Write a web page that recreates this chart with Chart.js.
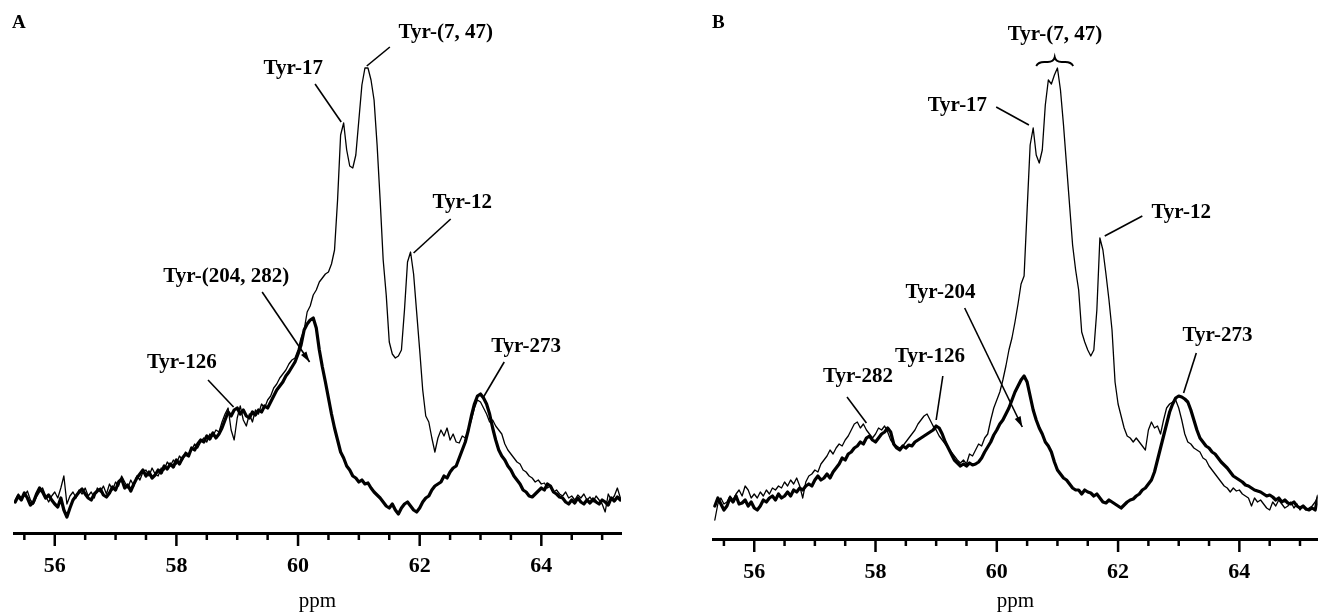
<!DOCTYPE html>
<html>
<head>
<meta charset="utf-8">
<script src="https://cdn.jsdelivr.net/npm/chart.js@4.4.1/dist/chart.umd.min.js"></script>
<style>
  body { margin: 0; background: #fff; }
  #wrap { position: relative; width: 1320px; height: 612px; overflow: hidden; }
  #wrap canvas { position: absolute; top: 0; }
  .panel { position: absolute; top: 11px; font: bold 19px "Liberation Serif", serif; color: #000; }
</style>
</head>
<body>
<div id="wrap">
  <canvas id="chartA" width="660" height="612" style="left:0"></canvas>
  <canvas id="chartB" width="660" height="612" style="left:660px"></canvas>
  <div class="panel" style="left:12px">A</div>
  <div class="panel" style="left:712px">B</div>
</div>
<script>
// sampling grid of the spectra, ppm (0.05 ppm steps)
const ppm = Array.from({length: 200}, (_, i) => +(55.35 + i * 0.05).toFixed(2));

// axis ticks
const tickValues = [55.5, 56, 56.5, 57, 57.5, 58, 58.5, 59, 59.5, 60, 60.5, 61, 61.5, 62, 62.5, 63, 63.5, 64, 64.5, 65];
const majorTicks = [56, 58, 60, 62, 64];

// panel A, intensities (one row = 1 ppm)
const aThick = [
  -2, 4, 0, 7, 2, -5, -2, 6, 12, 8, 2, 5, 0, -4, -7, 2, -10, -17, -8, 0,
  4, 8, 11, 6, 2, 0, 6, 9, 11, 5, 3, 7, 13, 10, 18, 21, 12, 15, 9, 16,
  22, 26, 30, 24, 28, 22, 25, 30, 27, 34, 31, 36, 33, 40, 36, 42, 46, 44, 52, 50,
  56, 60, 58, 64, 61, 67, 62, 66, 72, 80, 88, 84, 90, 92, 86, 90, 84, 82, 88, 85,
  90, 88, 94, 92, 98, 104, 110, 114, 118, 124, 128, 133, 138, 146, 155, 170, 176, 180, 182, 172,
  150, 133, 118, 102, 86, 72, 60, 48, 42, 34, 30, 24, 22, 18, 20, 16, 17, 12, 8, 5,
  2, -2, -6, -8, -4, -10, -14, -8, -4, -2, -6, -10, -12, -8, -2, 2, 4, 10, 14, 16,
  18, 24, 22, 28, 32, 34, 42, 50, 58, 70, 84, 96, 104, 106, 102, 96, 86, 72, 60, 50,
  44, 40, 34, 30, 24, 20, 16, 10, 8, 4, 3, 6, 9, 12, 10, 16, 14, 8, 6, 3,
  2, -2, -4, 0, -3, 2, -2, -4, 0, -3, 1, -2, -4, 0, -2, -5, 2, -1, 3, 0
];
const aThin = [
  0, 6, 2, 4, 9, 0, -4, 3, 8, 12, 4, -2, 4, 8, 2, 12, 24, -4, 4, 8,
  2, 10, 6, 12, 4, 8, 2, 12, 8, 14, 6, 16, 10, 18, 14, 24, 18, 12, 20, 14,
  24, 20, 28, 30, 24, 32, 26, 24, 32, 30, 38, 34, 40, 36, 44, 40, 48, 46, 50, 56,
  52, 58, 62, 58, 66, 64, 70, 68, 78, 86, 92, 70, 60, 82, 94, 80, 74, 86, 78, 90,
  86, 96, 92, 100, 104, 112, 116, 122, 126, 130, 136, 140, 142, 150, 162, 170, 188, 194, 205, 210,
  218, 222, 226, 228, 236, 250, 300, 365, 377, 350, 334, 332, 345, 380, 415, 432, 432, 420, 400, 355,
  300, 240, 205, 158, 146, 142, 144, 150, 190, 238, 248, 226, 188, 150, 110, 84, 78, 62, 48, 62,
  70, 64, 72, 60, 66, 58, 57, 64, 62, 70, 80, 92, 100, 98, 92, 86, 78, 80, 74, 70,
  66, 56, 50, 46, 42, 38, 36, 30, 28, 24, 22, 18, 20, 16, 17, 12, 14, 8, 10, 6,
  4, 8, 2, 4, 0, 5, 2, 6, 0, 3, -2, 4, 0, -4, -12, 6, 0, 4, 12, 2
];

// panel B
const bThick = [
  -6, 2, -4, -10, -6, 2, -2, 4, -4, -3, 0, -6, -2, -8, -10, -6, 0, -2, 2, 4,
  0, 6, 2, 4, 8, 4, 10, 8, 12, 10, 14, 16, 14, 20, 24, 20, 22, 26, 22, 28,
  32, 36, 42, 40, 46, 48, 52, 54, 58, 56, 62, 64, 60, 58, 62, 66, 68, 72, 68, 56,
  52, 50, 54, 52, 55, 54, 58, 60, 62, 64, 66, 68, 70, 74, 72, 66, 58, 52, 46, 40,
  37, 34, 36, 34, 37, 35, 36, 38, 42, 48, 53, 58, 65, 70, 76, 80, 86, 92, 100, 108,
  114, 120, 124, 118, 104, 90, 80, 72, 66, 58, 54, 48, 38, 30, 26, 22, 20, 16, 12, 10,
  10, 6, 10, 8, 7, 4, 6, 2, -2, -3, 0, -2, -4, -6, -8, -5, -2, 0, 1, 4,
  6, 10, 12, 16, 20, 28, 40, 52, 64, 76, 88, 96, 102, 104, 103, 101, 98, 90, 80, 70,
  62, 58, 54, 52, 48, 46, 42, 38, 35, 32, 28, 24, 22, 20, 18, 15, 14, 12, 10, 9,
  8, 6, 4, 5, 3, 0, 2, -2, 0, -3, -4, -2, -6, -8, -6, -9, -10, -8, -10, 4
];
const bThin = [
  -20, -4, 2, -4, -2, 4, 0, 6, 10, 4, 14, 10, 2, 6, 2, 8, 4, 10, 6, 12,
  10, 14, 12, 18, 14, 20, 16, 22, 14, 2, 18, 24, 26, 30, 28, 36, 40, 44, 50, 46,
  52, 56, 54, 60, 64, 70, 76, 78, 72, 76, 70, 66, 62, 66, 72, 70, 74, 68, 60, 56,
  54, 52, 54, 58, 62, 66, 70, 76, 80, 84, 86, 80, 74, 70, 64, 60, 56, 52, 48, 44,
  40, 37, 40, 36, 46, 44, 50, 56, 54, 62, 66, 80, 92, 100, 108, 120, 134, 150, 162, 178,
  196, 216, 224, 290, 355, 372, 345, 337, 350, 395, 420, 416, 425, 432, 410, 375, 335, 295, 255, 230,
  210, 168, 158, 150, 144, 150, 190, 262, 250, 226, 200, 170, 118, 96, 84, 72, 64, 62, 58, 62,
  58, 54, 50, 70, 78, 72, 74, 66, 80, 92, 96, 98, 100, 92, 80, 66, 58, 56, 52, 50,
  48, 42, 40, 34, 30, 26, 22, 18, 14, 12, 8, 12, 9, 10, 6, 4, 2, -6, 2, -2,
  0, -4, -8, -10, -2, -6, 0, -4, -8, -6, -2, -8, -4, -10, -6, -10, -8, -6, -2, 4
];

// peak labels: [text, ppm, intensity] and leaders: [ppm1, int1, ppm2, int2, arrow]
const aLabels = [
  ['Tyr-(7, 47)', 62.43, 467], ['Tyr-17', 59.92, 431], ['Tyr-12', 62.70, 297],
  ['Tyr-(204, 282)', 58.82, 223], ['Tyr-126', 58.09, 137], ['Tyr-273', 63.75, 153]
];
const aLeaders = [
  [61.51, 453, 61.13, 434], [60.28, 416, 60.71, 378], [62.51, 281, 61.90, 247],
  [59.41, 208, 60.19, 138, true], [58.52, 120, 58.94, 93], [63.39, 138, 63.04, 102]
];
const bLabels = [
  ['Tyr-(7, 47)', 60.96, 465], ['Tyr-17', 59.35, 394], ['Tyr-12', 63.04, 287],
  ['Tyr-204', 59.07, 207], ['Tyr-126', 58.90, 143], ['Tyr-282', 57.71, 123], ['Tyr-273', 63.64, 164]
];
const bLeaders = [
  [59.99, 393, 60.53, 375], [62.40, 284, 61.78, 264], [59.47, 192, 60.42, 73, true],
  [59.11, 124, 59.00, 80], [57.53, 103, 57.85, 77], [63.29, 147, 63.08, 107]
];
const bBrace = [60.65, 61.26, 438];

const serif = '"Liberation Serif", "Times New Roman", serif';

function notesPlugin(labels, leaders, brace) {
  return {
    id: 'notes',
    afterDraw(chart) {
      const ctx = chart.ctx;
      const xs = chart.scales.x, ys = chart.scales.y;
      const px = v => xs.getPixelForValue(v), py = v => ys.getPixelForValue(v);
      ctx.save();
      ctx.strokeStyle = '#000';
      ctx.fillStyle = '#000';
      // tick marks below the axis line
      ctx.lineWidth = 2.5;
      tickValues.forEach(v => {
        const x = px(v);
        const len = majorTicks.includes(v) ? 13 : 7;
        ctx.beginPath();
        ctx.moveTo(x, xs.top);
        ctx.lineTo(x, xs.top + len);
        ctx.stroke();
      });
      // leader lines
      ctx.lineWidth = 1.6;
      leaders.forEach(l => {
        const x1 = px(l[0]), y1 = py(l[1]), x2 = px(l[2]), y2 = py(l[3]);
        ctx.beginPath();
        ctx.moveTo(x1, y1);
        ctx.lineTo(x2, y2);
        ctx.stroke();
        if (l[4]) {
          const a = Math.atan2(y2 - y1, x2 - x1);
          ctx.beginPath();
          ctx.moveTo(x2, y2);
          ctx.lineTo(x2 - 11 * Math.cos(a - 0.3), y2 - 11 * Math.sin(a - 0.3));
          ctx.lineTo(x2 - 11 * Math.cos(a + 0.3), y2 - 11 * Math.sin(a + 0.3));
          ctx.closePath();
          ctx.fill();
        }
      });
      // brace over the two overlapping peaks
      if (brace) {
        const x1 = px(brace[0]), x2 = px(brace[1]), y = py(brace[2]), xm = (x1 + x2) / 2;
        ctx.lineWidth = 1.8;
        ctx.beginPath();
        ctx.moveTo(x1, y + 4);
        ctx.quadraticCurveTo(x1 + 2, y, x1 + 8, y);
        ctx.lineTo(xm - 7, y);
        ctx.quadraticCurveTo(xm - 1, y, xm, y - 5);
        ctx.quadraticCurveTo(xm + 1, y, xm + 7, y);
        ctx.lineTo(x2 - 8, y);
        ctx.quadraticCurveTo(x2 - 2, y, x2, y + 4);
        ctx.stroke();
      }
      // label text
      ctx.font = 'bold 21px ' + serif;
      ctx.textAlign = 'center';
      ctx.textBaseline = 'middle';
      labels.forEach(t => ctx.fillText(t[0], px(t[1]), py(t[2])));
      ctx.restore();
    }
  };
}

function makeChart(id, thick, thin, opts) {
  const ctx = document.getElementById(id).getContext('2d');
  return new Chart(ctx, {
    type: 'line',
    data: {
      datasets: [
        { label: 'thick', data: ppm.map((x, i) => ({x: x, y: thick[i]})), borderColor: '#000', borderWidth: 3.2 },
        { label: 'thin', data: ppm.map((x, i) => ({x: x, y: thin[i]})), borderColor: '#000', borderWidth: 1.3 }
      ]
    },
    options: {
      responsive: false,
      animation: false,
      devicePixelRatio: 1,
      layout: { padding: { left: opts.left, right: opts.right, top: 20, bottom: 0 } },
      elements: { point: { radius: 0 }, line: { tension: 0, borderJoinStyle: 'round', borderCapStyle: 'round' } },
      scales: {
        x: {
          type: 'linear',
          min: opts.min,
          max: opts.max,
          afterBuildTicks: s => { s.ticks = tickValues.map(v => ({value: v})); },
          afterFit: s => { s.height = opts.axisHeight; },
          grid: { display: false, drawTicks: false },
          border: { display: true, color: '#000', width: 3 },
          ticks: {
            autoSkip: false,
            maxRotation: 0,
            padding: 20,
            color: '#000',
            font: { family: serif, size: 22, weight: 'bold' },
            callback: v => majorTicks.includes(v) ? String(v) : ''
          },
          title: {
            display: true,
            text: 'ppm',
            color: '#000',
            padding: 0,
            font: { family: serif, size: 21, lineHeight: 1 }
          }
        },
        y: { display: false, min: opts.yMin, max: 480 }
      },
      plugins: { legend: { display: false }, tooltip: { enabled: false } }
    },
    plugins: [notesPlugin(opts.labels, opts.leaders, opts.brace)]
  });
}

makeChart('chartA', aThick, aThin, {
  left: 14, right: 39, min: 55.33, max: 65.31, axisHeight: 79, yMin: -33,
  labels: aLabels, leaders: aLeaders, brace: null
});
makeChart('chartB', bThick, bThin, {
  left: 53, right: 0, min: 55.32, max: 65.29, axisHeight: 73, yMin: -39,
  labels: bLabels, leaders: bLeaders, brace: bBrace
});
</script>
</body>
</html>
